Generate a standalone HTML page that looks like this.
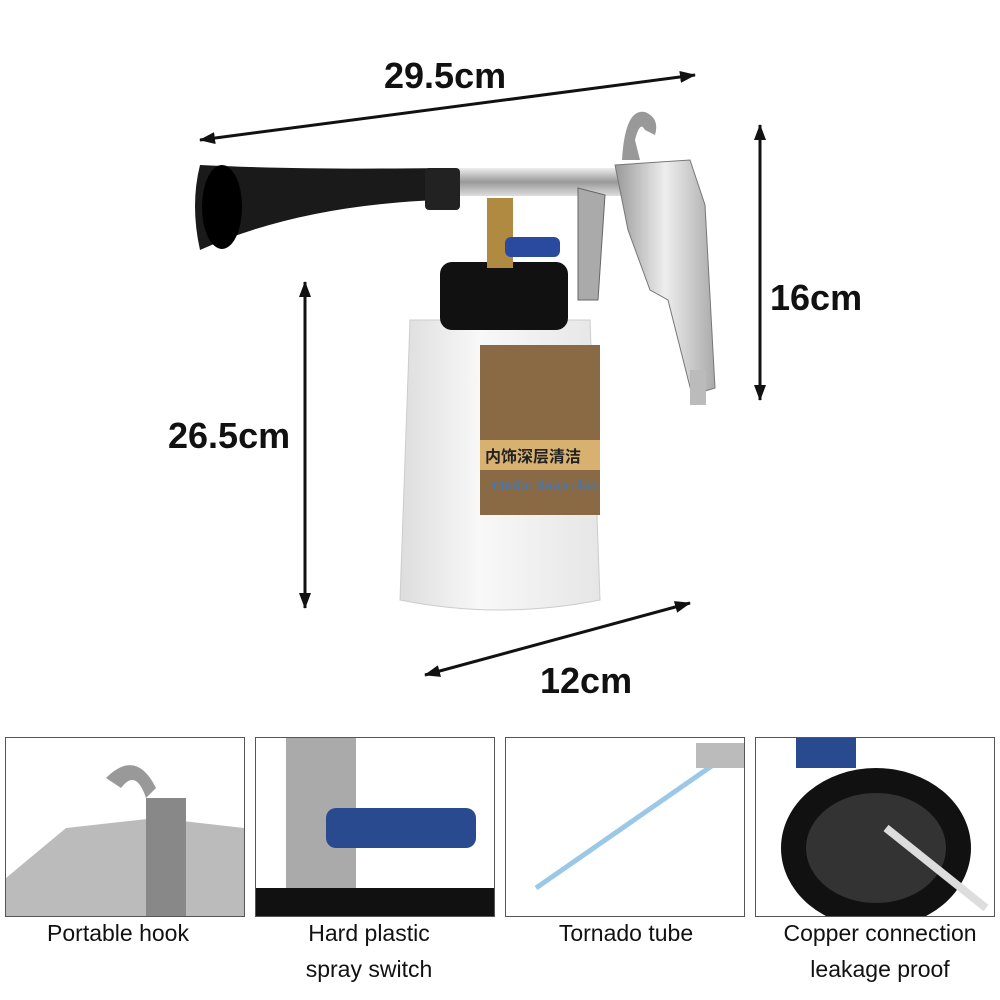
<!DOCTYPE html>
<html><head><meta charset="utf-8"><style>
html,body{margin:0;padding:0;background:#fff;}
body{width:1000px;height:1000px;position:relative;overflow:hidden;font-family:"Liberation Sans","Noto Sans CJK SC",sans-serif;}
.t{position:absolute;color:#111;white-space:nowrap;}
.big{font-size:36px;font-weight:bold;}
.cap{font-size:23px;text-align:center;width:250px;line-height:36px;}
.panel{position:absolute;top:737px;width:238px;height:178px;border:1px solid #555;overflow:hidden;background:#fff;}
</style></head><body>
<svg width="1000" height="1000" style="position:absolute;left:0;top:0">
<defs>
<marker id="a" markerUnits="userSpaceOnUse" markerWidth="16" markerHeight="12" refX="15" refY="6" orient="auto"><path d="M0,0 L16,6 L0,12 Z" fill="#111"/></marker>
<marker id="b" markerUnits="userSpaceOnUse" markerWidth="16" markerHeight="12" refX="1" refY="6" orient="auto"><path d="M16,0 L0,6 L16,12 Z" fill="#111"/></marker>
<linearGradient id="s" x1="0" y1="0" x2="0" y2="1"><stop offset="0" stop-color="#eee"/><stop offset=".5" stop-color="#999"/><stop offset="1" stop-color="#ddd"/></linearGradient>
<linearGradient id="g" x1="0" y1="0" x2="1" y2="0"><stop offset="0" stop-color="#999"/><stop offset=".5" stop-color="#eee"/><stop offset="1" stop-color="#aaa"/></linearGradient>
<linearGradient id="w" x1="0" y1="0" x2="1" y2="0"><stop offset="0" stop-color="#ddd"/><stop offset=".4" stop-color="#f8f8f8"/><stop offset="1" stop-color="#e6e6e6"/></linearGradient>
</defs>
<!-- bottle -->
<path d="M410,320 L590,320 L600,600 Q500,620 400,600 Z" fill="url(#w)" stroke="#ccc"/>
<rect x="480" y="345" width="120" height="170" fill="#8a6a45"/>
<rect x="480" y="440" width="120" height="30" fill="#d8b070"/>
<text x="485" y="462" font-size="16" fill="#222" font-weight="bold">内饰深层清洁</text>
<text x="490" y="490" font-size="14" fill="#3a7ac0">interior deep clea</text>
<rect x="440" y="262" width="128" height="68" rx="12" fill="#111"/>
<!-- barrel -->
<rect x="440" y="168" width="190" height="28" fill="url(#s)"/>
<path d="M200,165 Q300,170 440,168 L440,200 Q300,205 200,250 Q190,205 200,165Z" fill="#1a1a1a"/>
<ellipse cx="222" cy="207" rx="20" ry="42" fill="#000"/>
<rect x="425" y="168" width="35" height="42" rx="4" fill="#222"/>
<rect x="487" y="198" width="26" height="70" fill="#b08a40"/>
<rect x="505" y="237" width="55" height="20" rx="6" fill="#2a4aa0"/>
<!-- handle -->
<path d="M622,160 Q625,108 645,112 Q660,118 655,135 L645,130 Q640,120 635,140 L640,160 Z" fill="#999"/>
<path d="M615,165 L690,160 L705,205 L715,388 L692,395 L668,300 L650,290 L628,230 Z" fill="url(#g)" stroke="#777"/>
<path d="M578,188 L605,195 L598,300 L578,300 Z" fill="#aaa" stroke="#666"/>
<rect x="690" y="370" width="16" height="35" fill="#bbb"/>
<!-- arrows -->
<line x1="200" y1="140" x2="695" y2="75" stroke="#111" stroke-width="3" marker-end="url(#a)" marker-start="url(#b)"/>
<line x1="760" y1="125" x2="760" y2="400" stroke="#111" stroke-width="3" marker-end="url(#a)" marker-start="url(#b)"/>
<line x1="305" y1="282" x2="305" y2="608" stroke="#111" stroke-width="3" marker-end="url(#a)" marker-start="url(#b)"/>
<line x1="425" y1="675" x2="690" y2="603" stroke="#111" stroke-width="3" marker-end="url(#a)" marker-start="url(#b)"/>
</svg>
<div class="t big" style="left:384px;top:55px">29.5cm</div>
<div class="t big" style="left:770px;top:277px">16cm</div>
<div class="t big" style="left:168px;top:415px">26.5cm</div>
<div class="t big" style="left:540px;top:660px">12cm</div>

<div class="panel" style="left:5px">
<svg width="238" height="178"><path d="M0,140 L60,90 L150,80 L238,90 L238,178 L0,178Z" fill="#bbb"/><path d="M100,40 Q130,10 150,50 L140,60 Q130,30 115,50Z" fill="#999"/><rect x="140" y="60" width="40" height="118" fill="#888"/></svg></div>
<div class="panel" style="left:255px">
<svg width="238" height="178"><rect x="30" y="0" width="70" height="170" fill="#aaa"/><rect x="70" y="70" width="150" height="40" rx="10" fill="#2a4a90"/><rect x="0" y="150" width="238" height="28" fill="#111"/></svg></div>
<div class="panel" style="left:505px">
<svg width="238" height="178"><line x1="30" y1="150" x2="210" y2="25" stroke="#9cc8e8" stroke-width="5"/><rect x="190" y="5" width="48" height="25" fill="#bbb"/></svg></div>
<div class="panel" style="left:755px">
<svg width="238" height="178"><ellipse cx="120" cy="110" rx="95" ry="80" fill="#111"/><ellipse cx="120" cy="110" rx="70" ry="55" fill="#333"/><line x1="130" y1="90" x2="230" y2="170" stroke="#ddd" stroke-width="8"/><rect x="40" y="0" width="60" height="30" fill="#2a4a90"/></svg></div>

<div class="t cap" style="left:-7px;top:915px">Portable hook</div>
<div class="t cap" style="left:244px;top:915px">Hard plastic<br>spray switch</div>
<div class="t cap" style="left:501px;top:915px">Tornado tube</div>
<div class="t cap" style="left:755px;top:915px">Copper connection<br>leakage proof</div>
</body></html>
